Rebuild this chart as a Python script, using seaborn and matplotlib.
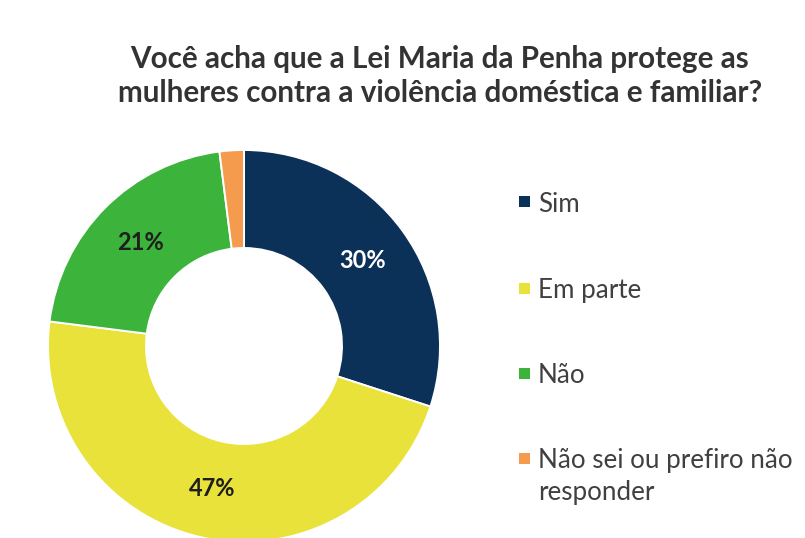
import matplotlib
matplotlib.use("Agg")
import matplotlib.pyplot as plt
from matplotlib.patches import Rectangle
import numpy as np
import seaborn as sns

# Survey answers and their shares (%)
categories = ["Sim", "Em parte", "Não", "Não sei ou prefiro não\nresponder"]
shares = [30, 47, 21, 2]
colors = ["#0c3159", "#e9e23a", "#3cb43c", "#f59b4e"]
label_colors = ["white", "#1e1e1e", "#1e1e1e", None]
title = "Você acha que a Lei Maria da Penha protege as\nmulheres contra a violência doméstica e familiar?"

sns.set_theme(style="white")
plt.rcParams["font.family"] = ["Lato", "DejaVu Sans"]

W, H = 805, 538
fig = plt.figure(figsize=(W / 100, H / 100), dpi=100)
fig.patch.set_facecolor("white")

# donut centred at (244, 346) px with outer radius 196 px
cx, cy, r = 244, 346, 196
ax = fig.add_axes([(cx - r) / W, (H - cy - r) / H, 2 * r / W, 2 * r / H])
wedges, _ = ax.pie(
    shares,
    colors=colors,
    startangle=90,
    counterclock=False,
    radius=1.0,
    wedgeprops=dict(width=0.5, edgecolor="white", linewidth=1.4),
)
for w in wedges:
    w.set_clip_on(False)

# percentage labels in the middle of the ring
start = 90.0
for val, col in zip(shares, label_colors):
    span = val * 3.6
    mid = np.deg2rad(start - span / 2)
    start -= span
    if col is None:
        continue
    rr = 0.745
    ax.text(rr * np.cos(mid), rr * np.sin(mid), f"{val}%", ha="center", va="center",
            fontsize=17, fontweight="bold", color=col)
ax.set_xlim(-1, 1)
ax.set_ylim(-1, 1)
ax.set_aspect("equal")
ax.axis("off")

# title
fig.text(440 / W, 1 - 76 / H, title, ha="center", va="center", fontsize=21.3,
         fontweight="bold", color="#333333", linespacing=1.28)

# legend
ys = [202, 288, 373, 458]
for lab, col, y in zip(categories, colors, ys):
    fig.patches.append(Rectangle((519 / W, 1 - (y + 5.5) / H), 11 / W, 11 / H,
                                 transform=fig.transFigure, facecolor=col, edgecolor="none"))
    first = lab.split("\n")[0]
    fig.text(538 / W, 1 - y / H, first, ha="left", va="center_baseline",
             fontsize=18.7, color="#404040")
    for k, extra in enumerate(lab.split("\n")[1:], start=1):
        fig.text(538 / W, 1 - (y + 32 * k) / H, extra, ha="left", va="center_baseline",
                 fontsize=18.7, color="#404040")

fig.savefig("out.png", dpi=100, facecolor="white")
